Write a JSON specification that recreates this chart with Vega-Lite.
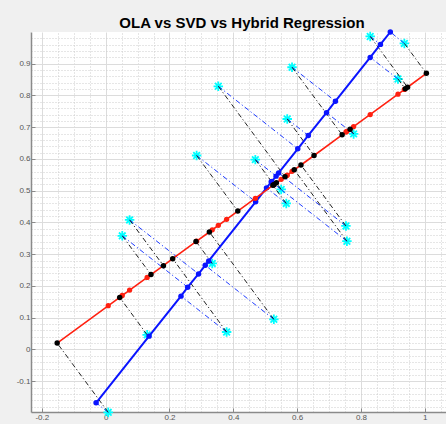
{
  "$schema": "https://vega.github.io/schema/vega-lite/v6.json",
  "width": 415,
  "height": 380,
  "autosize": {"type": "none"},
  "padding": {"left": 31, "top": 32, "right": 0, "bottom": 12},
  "background": "#f0f0f0",
  "title": {"text": "OLA vs SVD vs Hybrid Regression", "fontSize": 15, "fontWeight": "bold", "font": "Liberation Sans", "color": "#000000", "anchor": "middle", "dx": 3.5, "dy": 22, "offset": 7, "baseline": "alphabetic"},
  "config": {"view": {"fill": "white", "stroke": null}, "font": "Liberation Sans"},
  "data": {"values": [
    {"id": 1, "x": 0.008, "y": -0.198, "bx": -0.030, "by": -0.168, "kx": -0.152, "ky": 0.020, "ry": 0.138},
    {"id": 2, "x": 0.130, "y": 0.046, "bx": 0.136, "by": 0.042, "kx": 0.044, "ky": 0.164, "ry": 0.227},
    {"id": 3, "x": 0.075, "y": 0.408, "bx": 0.291, "by": 0.238, "kx": 0.181, "ky": 0.264, "ry": 0.187},
    {"id": 4, "x": 0.052, "y": 0.358, "bx": 0.257, "by": 0.196, "kx": 0.142, "ky": 0.236, "ry": 0.170},
    {"id": 5, "x": 0.379, "y": 0.055, "bx": 0.236, "by": 0.168, "kx": 0.210, "ky": 0.286, "ry": 0.410},
    {"id": 6, "x": 0.527, "y": 0.095, "bx": 0.312, "by": 0.265, "kx": 0.325, "ky": 0.370, "ry": 0.519},
    {"id": 7, "x": 0.334, "y": 0.271, "bx": 0.323, "by": 0.279, "kx": 0.283, "ky": 0.340, "ry": 0.377},
    {"id": 8, "x": 0.566, "y": 0.460, "bx": 0.504, "by": 0.509, "kx": 0.524, "ky": 0.517, "ry": 0.547},
    {"id": 9, "x": 0.753, "y": 0.389, "bx": 0.542, "by": 0.556, "kx": 0.612, "ky": 0.581, "ry": 0.685},
    {"id": 10, "x": 0.756, "y": 0.341, "bx": 0.519, "by": 0.528, "kx": 0.591, "ky": 0.566, "ry": 0.687},
    {"id": 11, "x": 0.353, "y": 0.829, "bx": 0.602, "by": 0.632, "kx": 0.562, "ky": 0.544, "ry": 0.391},
    {"id": 12, "x": 0.569, "y": 0.726, "bx": 0.635, "by": 0.674, "kx": 0.653, "ky": 0.611, "ry": 0.549},
    {"id": 13, "x": 0.285, "y": 0.611, "bx": 0.470, "by": 0.465, "kx": 0.414, "ky": 0.436, "ry": 0.341},
    {"id": 14, "x": 0.469, "y": 0.598, "bx": 0.534, "by": 0.546, "kx": 0.527, "ky": 0.519, "ry": 0.476},
    {"id": 15, "x": 0.550, "y": 0.504, "bx": 0.520, "by": 0.528, "kx": 0.535, "ky": 0.525, "ry": 0.536},
    {"id": 16, "x": 0.829, "y": 0.986, "bx": 0.861, "by": 0.961, "kx": 0.946, "ky": 0.826, "ry": 0.740},
    {"id": 17, "x": 0.936, "y": 0.964, "bx": 0.892, "by": 1.000, "kx": 1.005, "ky": 0.870, "ry": 0.819},
    {"id": 18, "x": 0.916, "y": 0.852, "bx": 0.829, "by": 0.920, "kx": 0.939, "ky": 0.821, "ry": 0.804},
    {"id": 19, "x": 0.777, "y": 0.679, "bx": 0.692, "by": 0.746, "kx": 0.766, "ky": 0.694, "ry": 0.702},
    {"id": 20, "x": 0.584, "y": 0.889, "bx": 0.720, "by": 0.782, "kx": 0.741, "ky": 0.676, "ry": 0.561}
  ]},
  "resolve": {"axis": {"x": "independent", "y": "independent"}},
  "layer": [
    {
      "mark": {"type": "point", "shape": "M-1,0L1,0M0,-1L0,1M-0.7,-0.7L0.7,0.7M-0.7,0.7L0.7,-0.7", "filled": false, "stroke": "#00ffff", "strokeWidth": 1.8, "size": 90, "opacity": 1},
      "encoding": {
        "x": {"field": "x", "type": "quantitative", "scale": {"domain": [-0.234, 1.0665], "nice": false, "zero": false},
              "axis": {"orient": "top", "values": [-0.15,-0.1,-0.05,0.05,0.1,0.15,0.25,0.3,0.35,0.45,0.5,0.55,0.65,0.7,0.75,0.85,0.9,0.95,1.05], "grid": true, "gridColor": "#cccccc", "gridDash": [1, 2], "gridWidth": 1, "labels": false, "ticks": false, "domain": false, "title": null}},
        "y": {"field": "y", "type": "quantitative", "scale": {"domain": [-0.197, 1.0], "nice": false, "zero": false},
              "axis": {"orient": "right", "values": [-0.18,-0.16,-0.14,-0.12,-0.08,-0.06,-0.04,-0.02,0.02,0.04,0.06,0.08,0.12,0.14,0.16,0.18,0.22,0.24,0.26,0.28,0.32,0.34,0.36,0.38,0.42,0.44,0.46,0.48,0.52,0.54,0.56,0.58,0.62,0.64,0.66,0.68,0.72,0.74,0.76,0.78,0.82,0.84,0.86,0.88,0.92,0.94,0.96,0.98], "grid": true, "gridColor": "#cccccc", "gridDash": [1, 2], "gridWidth": 1, "labels": false, "ticks": false, "domain": false, "title": null}}
      }
    },
    {
      "mark": {"type": "rule", "color": "#1f3cff", "strokeWidth": 1, "strokeDash": [5, 2.5, 1.2, 2.5]},
      "encoding": {
        "x": {"field": "x", "type": "quantitative", "scale": {"domain": [-0.234, 1.0665], "nice": false, "zero": false},
              "axis": {"orient": "bottom", "values": [-0.2, 0, 0.2, 0.4, 0.6, 0.8, 1], "grid": true, "gridColor": "#dcdcdc", "gridWidth": 1, "domainColor": "#8a8a8a", "domainWidth": 1.5, "tickColor": "#8a8a8a", "tickSize": -4, "tickWidth": 1, "labelPadding": 5, "labelColor": "#555555", "labelFontSize": 8, "labelFont": "Liberation Sans", "labelExpr": "replace(format(datum.value, '~g'), '\u2212', '-')", "title": null}},
        "y": {"field": "y", "type": "quantitative", "scale": {"domain": [-0.197, 1.0], "nice": false, "zero": false},
              "axis": {"orient": "left", "values": [-0.1, 0, 0.1, 0.2, 0.3, 0.4, 0.5, 0.6, 0.7, 0.8, 0.9], "grid": true, "gridColor": "#dcdcdc", "gridWidth": 1, "domainColor": "#8a8a8a", "domainWidth": 1.5, "tickColor": "#8a8a8a", "tickSize": -4, "tickWidth": 1, "labelPadding": 5, "labelColor": "#555555", "labelFontSize": 8, "labelFont": "Liberation Sans", "labelExpr": "replace(format(datum.value, '~g'), '\u2212', '-')", "title": null}},
        "x2": {"field": "bx"},
        "y2": {"field": "by"}
      }
    },
    {
      "mark": {"type": "rule", "color": "#222222", "strokeWidth": 1, "strokeDash": [5, 2.5, 1.2, 2.5]},
      "encoding": {
        "x": {"field": "x", "type": "quantitative", "scale": {"domain": [-0.234, 1.0665], "nice": false, "zero": false}, "axis": null},
        "y": {"field": "y", "type": "quantitative", "scale": {"domain": [-0.197, 1.0], "nice": false, "zero": false}, "axis": null},
        "x2": {"field": "kx"},
        "y2": {"field": "ky"}
      }
    },
    {
      "mark": {"type": "line", "color": "#0a14ff", "strokeWidth": 2},
      "encoding": {
        "x": {"field": "bx", "type": "quantitative", "scale": {"domain": [-0.234, 1.0665], "nice": false, "zero": false}, "axis": null},
        "y": {"field": "by", "type": "quantitative", "scale": {"domain": [-0.197, 1.0], "nice": false, "zero": false}, "axis": null},
        "order": {"field": "bx", "type": "quantitative"}
      }
    },
    {
      "mark": {"type": "circle", "color": "#0a14ff", "size": 30, "opacity": 1},
      "encoding": {
        "x": {"field": "bx", "type": "quantitative", "scale": {"domain": [-0.234, 1.0665], "nice": false, "zero": false}, "axis": null},
        "y": {"field": "by", "type": "quantitative", "scale": {"domain": [-0.197, 1.0], "nice": false, "zero": false}, "axis": null}
      }
    },
    {
      "mark": {"type": "line", "color": "#ff2010", "strokeWidth": 1.6},
      "encoding": {
        "x": {"field": "kx", "type": "quantitative", "scale": {"domain": [-0.234, 1.0665], "nice": false, "zero": false}, "axis": null},
        "y": {"field": "ky", "type": "quantitative", "scale": {"domain": [-0.197, 1.0], "nice": false, "zero": false}, "axis": null},
        "order": {"field": "kx", "type": "quantitative"}
      }
    },
    {
      "mark": {"type": "circle", "color": "#ff2010", "size": 28, "opacity": 1},
      "encoding": {
        "x": {"field": "x", "type": "quantitative", "scale": {"domain": [-0.234, 1.0665], "nice": false, "zero": false}, "axis": null},
        "y": {"field": "ry", "type": "quantitative", "scale": {"domain": [-0.197, 1.0], "nice": false, "zero": false}, "axis": null}
      }
    },
    {
      "mark": {"type": "circle", "color": "#000000", "size": 30, "opacity": 1},
      "encoding": {
        "x": {"field": "kx", "type": "quantitative", "scale": {"domain": [-0.234, 1.0665], "nice": false, "zero": false}, "axis": null},
        "y": {"field": "ky", "type": "quantitative", "scale": {"domain": [-0.197, 1.0], "nice": false, "zero": false}, "axis": null}
      }
    }
  ]
}
